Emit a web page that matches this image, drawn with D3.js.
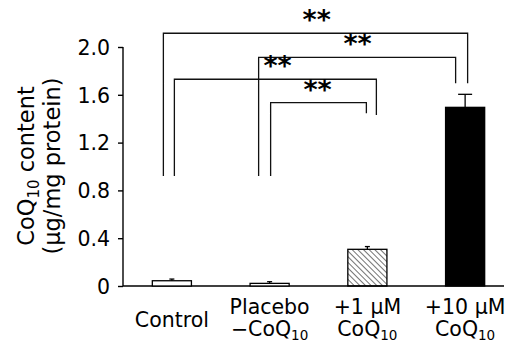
<!DOCTYPE html>
<html><head><meta charset="utf-8">
<script src="https://cdn.jsdelivr.net/npm/d3@7"></script>
<style>body{margin:0;background:#fff}svg{display:block}text{font-family:"DejaVu Sans",Verdana,sans-serif;fill:#000}</style>
</head><body><svg id="c" width="505" height="344"></svg>
<script>
const categories = ["Control", "Placebo", "+1 µM", "+10 µM"];
const means = [0.044, 0.022, 0.307, 1.495];
const errUpper = [0.058, 0.036, 0.33, 1.604];
const yTicks = [0, 0.4, 0.8, 1.2, 1.6, 2.0];
const yTickLabels = ["0", "0.4", "0.8", "1.2", "1.6", "2.0"];
// significance brackets: from, to, level, bottom of left leg, bottom of right leg
const bracketFrom = [0, 1, 0, 1];
const bracketTo = [3, 3, 2, 2];
const bracketLevel = [2.115, 1.914, 1.73, 1.534];
const bracketLeftEnd = [0.92, 0.92, 0.92, 0.92];
const bracketRightEnd = [1.696, 1.696, 1.431, 1.445];
const bracketLabel = ["**", "**", "**", "**"];

const svg = d3.select("#c");
const x = d3.scaleBand().domain(categories).range([123, 514]).padding(0);
const y = d3.scaleLinear().domain([0, 2]).range([286, 47]);
const bw = x.bandwidth() * 0.4;
const cx = i => x(categories[i]) + x.bandwidth() / 2;

const defs = svg.append("defs");
defs.append("pattern").attr("id", "hatch").attr("patternUnits", "userSpaceOnUse")
  .attr("width", 4).attr("height", 4).attr("patternTransform", "rotate(-45)")
  .append("line").attr("x1", 0).attr("y1", 0).attr("x2", 0).attr("y2", 4)
  .attr("stroke", "#000").attr("stroke-width", 1.1);

// y axis
const yAxis = d3.axisLeft(y).tickValues(yTicks).tickFormat((d, i) => yTickLabels[i]).tickSize(5).tickPadding(8);
const ga = svg.append("g").attr("transform", "translate(123,0)").call(yAxis);
ga.select(".domain").attr("stroke", "#000").attr("stroke-width", 1.4).attr("d", `M0,${y(2)}V${y(0)}`);
ga.selectAll(".tick line").attr("stroke", "#000").attr("stroke-width", 1.4);
ga.selectAll(".tick text").style("font-family", "DejaVu Sans").style("font-size", "20.5px").attr("dy", "0.36em");

// x axis line
svg.append("line").attr("x1", 123).attr("x2", 504).attr("y1", y(0)).attr("y2", y(0))
  .attr("stroke", "#000").attr("stroke-width", 1.4);

// bars
const fills = ["#fff", "#fff", "url(#hatch)", "#000"];
svg.selectAll("rect.bar").data(means).join("rect").attr("class", "bar")
  .attr("x", (d, i) => cx(i) - bw / 2).attr("width", bw)
  .attr("y", d => y(d)).attr("height", d => y(0) - y(d))
  .attr("fill", (d, i) => fills[i]).attr("stroke", "#000").attr("stroke-width", 1.3);

// error bars
errUpper.forEach((e, i) => {
  const cw = i === 3 ? 7 : 2.5;
  svg.append("line").attr("x1", cx(i)).attr("x2", cx(i)).attr("y1", y(means[i])).attr("y2", y(e))
    .attr("stroke", "#000").attr("stroke-width", 1.3);
  svg.append("line").attr("x1", cx(i) - cw).attr("x2", cx(i) + cw).attr("y1", y(e)).attr("y2", y(e))
    .attr("stroke", "#000").attr("stroke-width", 1.3);
});

// brackets
const legOffL = [-8.5, -11, 2.5, 1];
const legOffR = [2.5, -9.5, 9, -1];
bracketFrom.forEach((f, k) => {
  const x1 = cx(f) + legOffL[k], x2 = cx(bracketTo[k]) + legOffR[k];
  const yl = y(bracketLevel[k]);
  svg.append("path").attr("fill", "none").attr("stroke", "#111").attr("stroke-width", 1.3)
    .attr("d", `M${x1},${y(bracketLeftEnd[k])}V${yl}H${x2}V${y(bracketRightEnd[k])}`);
});
const starX = [316.7, 357.5, 277.5, 317.5];
bracketLabel.forEach((s, k) => {
  svg.append("text").attr("x", starX[k]).attr("y", y(bracketLevel[k]) - 4)
    .attr("text-anchor", "middle").style("font-size", "27px").style("font-weight", "bold").text(s);
});

// category labels
function sub(t, main, s) { t.append("tspan").text(main); t.append("tspan").attr("dy", 4).style("font-size", "13.5px").text(s); }
const fs = "20.5px";
const l1 = 314, l2 = 336;
svg.append("text").attr("x", cx(0)).attr("y", 327).attr("text-anchor", "middle").style("font-size", fs).text(categories[0]);
svg.append("text").attr("x", cx(1)).attr("y", l1).attr("text-anchor", "middle").style("font-size", fs).text(categories[1]);
{ const t = svg.append("text").attr("x", cx(1)).attr("y", l2).attr("text-anchor", "middle").style("font-size", fs); sub(t, "−CoQ", "10"); }
svg.append("text").attr("x", cx(2)).attr("y", l1).attr("text-anchor", "middle").style("font-size", fs).text(categories[2]);
{ const t = svg.append("text").attr("x", cx(2)).attr("y", l2).attr("text-anchor", "middle").style("font-size", fs); sub(t, "CoQ", "10"); }
svg.append("text").attr("x", cx(3)).attr("y", l1).attr("text-anchor", "middle").style("font-size", fs).text(categories[3]);
{ const t = svg.append("text").attr("x", cx(3)).attr("y", l2).attr("text-anchor", "middle").style("font-size", fs); sub(t, "CoQ", "10"); }

// y label
const yl = svg.append("g").attr("transform", "translate(33.5,166) rotate(-90)");
{ const t = yl.append("text").attr("text-anchor", "middle").style("font-size", "22.5px");
  t.append("tspan").text("CoQ"); t.append("tspan").attr("dy", 5).style("font-size", "15px").text("10");
  t.append("tspan").attr("dy", -5).text(" content"); }
yl.append("text").attr("y", 26.5).attr("text-anchor", "middle").style("font-size", "22.5px").text("(µg/mg protein)");
</script></body></html>
